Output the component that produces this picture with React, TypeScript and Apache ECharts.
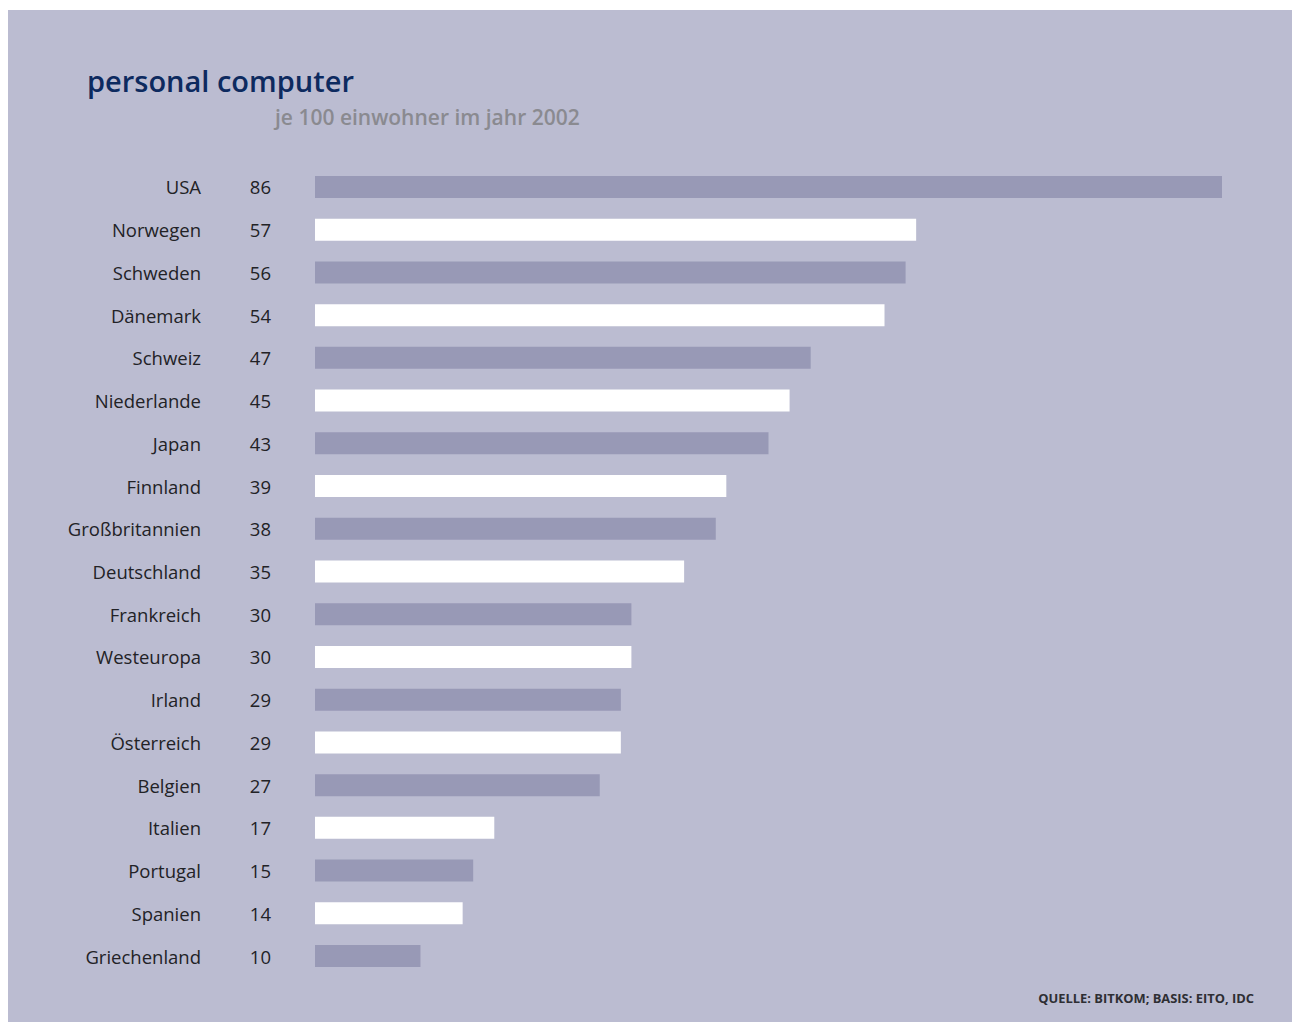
import React, { useEffect, useRef } from "react";
import * as echarts from "echarts";

const countries = [
  "USA", "Norwegen", "Schweden", "Dänemark", "Schweiz", "Niederlande", "Japan",
  "Finnland", "Großbritannien", "Deutschland", "Frankreich", "Westeuropa", "Irland",
  "Österreich", "Belgien", "Italien", "Portugal", "Spanien", "Griechenland",
];
const values = [86, 57, 56, 54, 47, 45, 43, 39, 38, 35, 30, 30, 29, 29, 27, 17, 15, 14, 10];

const titleText = "personal computer";
const subtitleText = "je 100 einwohner im jahr 2002";
const sourceText = "QUELLE: BITKOM; BASIS: EITO, IDC";

const BG = "#bbbcd1";
const DARK_BAR = "#9899b6";
const LIGHT_BAR = "#ffffff";
const FONT = "'Open Sans', 'Noto Sans', sans-serif";

export default function App() {
  const ref = useRef<HTMLDivElement>(null);
  useEffect(() => {
    if (!ref.current) return;
    const chart = echarts.init(ref.current, null, { renderer: "svg" });
    chart.setOption({
      animation: false,
      backgroundColor: BG,
      textStyle: { fontFamily: FONT },
      graphic: [
        {
          type: "text",
          left: 79,
          top: 56,
          style: { text: titleText, fill: "#0d2a5f", font: `600 29px ${FONT}` },
        },
        {
          type: "text",
          left: 267,
          top: 96,
          style: { text: subtitleText, fill: "#8a8a90", font: `600 21px ${FONT}` },
        },
        {
          type: "text",
          right: 38,
          top: 981,
          style: { text: sourceText, fill: "#2e2e33", font: `bold 12.9px ${FONT}` },
        },
      ],
      grid: { left: 307, top: 155.6, width: 907, height: 811.8, containLabel: false },
      xAxis: {
        type: "value",
        min: 0,
        max: 86,
        show: false,
      },
      yAxis: [
        {
          type: "category",
          data: countries,
          inverse: true,
          position: "left",
          axisLine: { show: false },
          axisTick: { show: false },
          splitLine: { show: false },
          axisLabel: {
            margin: 114,
            color: "#222226",
            fontSize: 18.5,
            fontFamily: FONT,
            padding: [4, 0, 0, 0],
          },
        },
        {
          type: "category",
          data: values.map((v) => String(v)),
          inverse: true,
          position: "left",
          axisLine: { show: false },
          axisTick: { show: false },
          splitLine: { show: false },
          axisLabel: {
            margin: 44,
            color: "#222226",
            fontSize: 18.5,
            fontFamily: FONT,
            padding: [4, 0, 0, 0],
          },
        },
      ],
      series: [
        {
          type: "bar",
          yAxisIndex: 0,
          barWidth: 22,
          data: values.map((v, i) => ({
            value: v,
            itemStyle: { color: i % 2 === 0 ? DARK_BAR : LIGHT_BAR },
          })),
        },
      ],
    });
    return () => chart.dispose();
  }, []);
  return (
    <div
      ref={ref}
      style={{ position: "absolute", left: 8, top: 10, width: 1284, height: 1012 }}
    />
  );
}
